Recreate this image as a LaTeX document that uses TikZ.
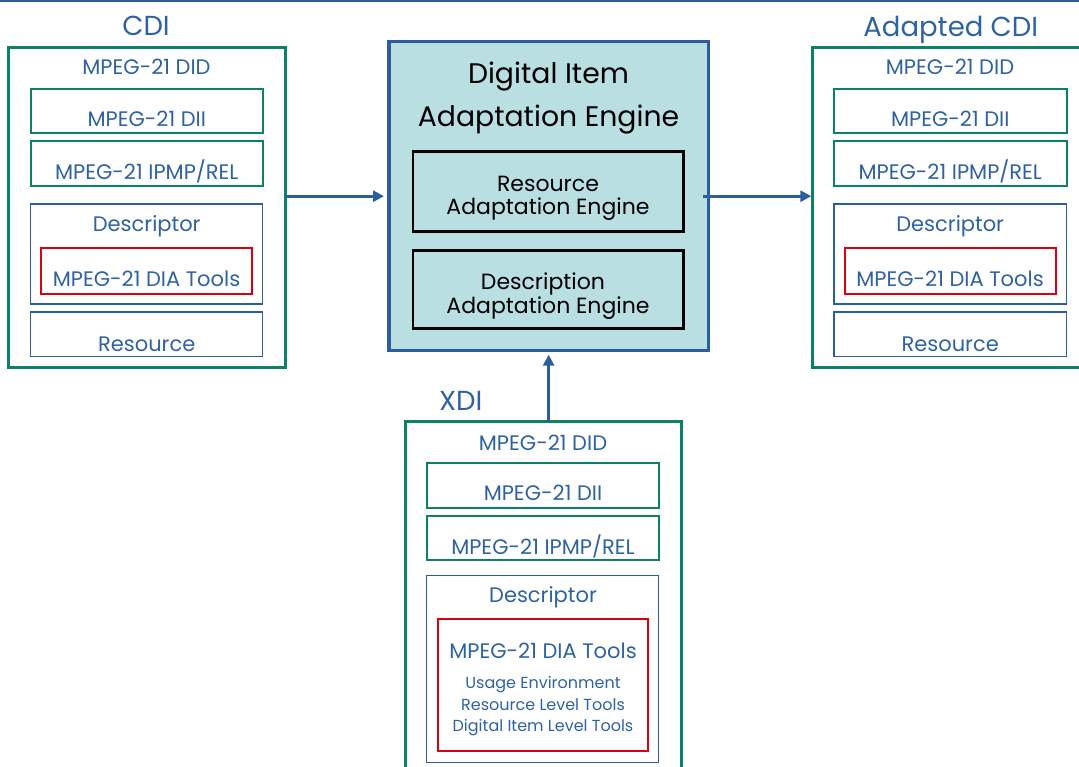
\documentclass[tikz,border=0pt]{standalone}
\usepackage{fontspec}
\setmainfont{Poppins}
\usetikzlibrary{arrows.meta}
\definecolor{tblue}{RGB}{42,94,158}
\definecolor{ttext}{RGB}{46,98,160}
\definecolor{tgreen}{RGB}{10,130,102}
\definecolor{tred}{RGB}{218,0,18}
\definecolor{tfill}{RGB}{186,223,227}
\newcommand\bx[6]{\node[#2, minimum width={(#5)-(#3)}, minimum height={(#6)-(#4)}] (#1) at ({((#3)+(#5))/2},{((#4)+(#6))/2}) {};}
\newcommand\fs[1]{\fontsize{#1}{#1}\selectfont}
\tikzset{
  box/.style={rectangle, inner sep=0pt, outer sep=0pt},
  gouter/.style={box, draw=tgreen, line width=3pt},
  ginner/.style={box, draw=tgreen, line width=2pt},
  binner/.style={box, draw=tblue, line width=1.4pt},
  rbox/.style={box, draw=tred, line width=2pt},
  engine/.style={box, draw=tblue, fill=tfill, line width=3.5pt},
  sub/.style={box, draw=black, line width=2.6pt},
  lbl/.style={anchor=base, inner sep=0pt, text=ttext, font=\fs{21}},
  big/.style={anchor=base, inner sep=0pt, text=ttext, font=\fs{27.5}},
  small/.style={anchor=base, inner sep=0pt, text=ttext, font=\fs{16}},
  etitle/.style={anchor=base, inner sep=0pt, text=black, font=\fs{28.3}},
  etext/.style={anchor=base, inner sep=0pt, text=black, font=\fs{22}},
  arr/.style={draw=tblue, line width=3pt, -{Triangle[length=11pt,width=11pt]}}
}
\begin{document}
\begin{tikzpicture}[x=1pt,y=-1pt]
\useasboundingbox (0,0) rectangle (1079,767);
\clip (0,0) rectangle (1079,767);
\fill[tblue] (0,0) rectangle (1079,1.6);
% CDI
\node[big] (tcdi) at (146,36) {CDI};
\bx{cdi}{gouter}{8}{47.7}{285}{367.7}
\node[lbl] (cdidid) at (146.5,75) {MPEG-21 DID};
\bx{cdidii}{ginner}{30.7}{88.7}{263}{133.3}
\node[lbl] (cdidiit) at (146.8,127) {MPEG-21 DII};
\bx{cdiipmp}{ginner}{30.7}{141}{263}{185.7}
\node[lbl] (cdiipmpt) at (146.8,180) {MPEG-21 IPMP/REL};
\bx{cdidesc}{binner}{30.7}{204}{262.7}{304}
\node[lbl] (cdidesct) at (146.7,232) {Descriptor};
\bx{cdidia}{rbox}{41}{248}{252}{293.7}
\node[lbl] (cdidiat) at (146.5,287) {MPEG-21 DIA Tools};
\bx{cdires}{binner}{30.7}{312}{262.7}{356.7}
\node[lbl] (cdirest) at (146.7,352) {Resource};
% Adapted CDI
\node[big] (tacdi) at (950.8,36.7) {Adapted CDI};
\bx{acdi}{gouter}{812.3}{47.7}{1092}{367.7}
\node[lbl] (acdidid) at (950,75) {MPEG-21 DID};
\bx{acdidii}{ginner}{834}{88.7}{1066.5}{133.3}
\node[lbl] (acdidiit) at (950.3,127) {MPEG-21 DII};
\bx{acdiipmp}{ginner}{834}{141}{1066.5}{185.7}
\node[lbl] (acdiipmpt) at (950.3,180) {MPEG-21 IPMP/REL};
\bx{acdidesc}{binner}{834}{204}{1066.2}{304}
\node[lbl] (acdidesct) at (950.2,232) {Descriptor};
\bx{acdidia}{rbox}{844.5}{248}{1055.5}{293.7}
\node[lbl] (acdidiat) at (950,287) {MPEG-21 DIA Tools};
\bx{acdires}{binner}{834}{312}{1066.2}{356.7}
\node[lbl] (acdirest) at (950.2,352) {Resource};
% Engine
\bx{diae}{engine}{389}{41.7}{708.3}{350.7}
\node[etitle] (diaet1) at (548.5,83.3) {Digital Item};
\node[etitle] (diaet2) at (548.5,126.7) {Adaptation Engine};
\bx{rae}{sub}{413}{151.7}{683.3}{231.3}
\node[etext] (raet1) at (548,191.7) {Resource};
\node[etext] (raet2) at (548,215) {Adaptation Engine};
\bx{dae}{sub}{413}{250.7}{683.3}{328.3}
\node[etext] (daet1) at (543,290) {Description};
\node[etext] (daet2) at (548,313.3) {Adaptation Engine};
% XDI
\node[big] (txdi) at (460.8,410) {XDI};
\bx{xdi}{gouter}{405}{421.7}{681}{790}
\node[lbl] (xdidid) at (543,450) {MPEG-21 DID};
\bx{xdidii}{ginner}{426.7}{463.3}{658.7}{507.7}
\node[lbl] (xdidiit) at (543,500.7) {MPEG-21 DII};
\bx{xdiipmp}{ginner}{426.7}{516}{658.7}{560.3}
\node[lbl] (xdiipmpt) at (543,554) {MPEG-21 IPMP/REL};
\bx{xdidesc}{binner}{426.7}{575.7}{658.7}{762.7}
\node[lbl] (xdidesct) at (543,602.7) {Descriptor};
\bx{xdidia}{rbox}{438.3}{619}{648.3}{751}
\node[lbl] (xdidiat) at (543,658.3) {MPEG-21 DIA Tools};
\node[small] (xdiu) at (543,688.3) {Usage Environment};
\node[small] (xdir) at (543,710) {Resource Level Tools};
\node[small] (xdig) at (543,731.7) {Digital Item Level Tools};
% Arrows
\draw[arr, shorten >=5pt] (cdi.east |- diae.west) -- (diae.west);
\draw[arr, shorten <=-5pt, shorten >=1pt] (diae.east) -- (acdi.west |- diae.east);
\draw[arr, shorten >=4pt] (diae.south |- xdi.north) -- (diae.south);
\end{tikzpicture}
\end{document}
